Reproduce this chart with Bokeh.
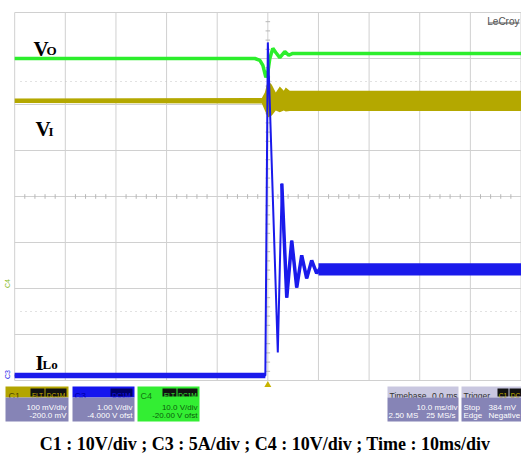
import numpy as np
from bokeh.plotting import figure
from bokeh.models import Range1d
from bokeh.core.properties import value
from bokeh.embed import file_html
from bokeh.resources import INLINE

# ---------------- data: time in ms (10 ms/div), amplitude in screen divisions ----------------
# C4 : output voltage Vo
vo_t = [-50, -2.56, -1.57, -0.98, -0.39, 0.0, 0.39, 0.98, 1.57, 2.36, 3.35, 4.13, 4.92, 50]
vo_y = [3.00, 3.00, 2.96, 2.85, 2.59, 2.70, 3.00, 3.22, 3.13, 3.02, 3.15, 3.07, 3.11, 3.11]

# C1 : input voltage VI (envelope of the noisy trace)
vi_t = [-50, -1.18, -0.59, 0.0, 0.79, 1.57, 2.36, 3.15, 3.54, 4.33, 50]
vi_hi = [2.13, 2.14, 2.26, 2.52, 2.43, 2.26, 2.39, 2.30, 2.37, 2.30, 2.30]
vi_lo = [2.03, 2.02, 1.87, 1.72, 1.76, 1.87, 1.83, 1.87, 1.85, 1.86, 1.86]

# C3 : inductor current ILo
il_t = [-50, -0.49, 0.0, 1.97, 2.76, 3.74, 4.72, 5.71, 6.69, 7.68, 8.66, 9.65, 10.4]
il_y = [-3.89, -3.89, 3.35, -3.39, 0.28, -2.20, -0.96, -1.98, -1.28, -1.78, -1.39, -1.67, -1.55]
il_band_t = [10.0, 50]
il_band_hi = [-1.45, -1.45]
il_band_lo = [-1.72, -1.72]

caption = "C1 : 10V/div ; C3 : 5A/div ; C4 : 10V/div ; Time : 10ms/div"

# ---------------- layout (figure fills the page) ----------------
W, H = 521, 455
X0, X1 = -52.8, 50.1
SX = W / (X1 - X0)
PXY = 46.0
Y1 = 196 / PXY
Y0 = Y1 - H / PXY


def dx(px):
    return X0 + px / SX


def dy(py):
    return Y1 - py / PXY


p = figure(width=W, height=H, x_range=Range1d(X0, X1), y_range=Range1d(Y0, Y1),
           x_axis_type=None, y_axis_type=None, toolbar_location=None,
           output_backend="svg", min_border=0, outline_line_color=None,
           background_fill_color="white", border_fill_color="white")

GRID = "#d0d0d0"
gx = np.arange(-50, 51, 10)
gy = np.arange(-4, 5, 1)
p.segment(x0=gx, y0=-4, x1=gx, y1=4, line_color=GRID, line_width=1)
p.segment(x0=-50, y0=gy, x1=50, y1=gy, line_color=GRID, line_width=1)
# dotted markers
p.segment(x0=[dx(20), dx(20)], y0=[2.5, -2.5], x1=[50, 50], y1=[2.5, -2.5],
          line_color="#c4c4c4", line_width=1, line_dash="1 4")
# center ticks
tx = [v for v in np.arange(-50, 50.01, 2) if abs(v % 10) > 1e-6]
p.segment(x0=tx, y0=-0.05, x1=tx, y1=0.05, line_color="#b8b8b8", line_width=1)
ty = [v for v in np.arange(-4, 4.001, 0.2) if abs(v - round(v)) > 1e-6]
p.segment(x0=-0.45, y0=ty, x1=0.45, y1=ty, line_color="#b8b8b8", line_width=1)

YEL = "#b4a800"
GRN = "#2cee2c"
BLU = "#1a1aeb"

# traces
p.varea(x=vi_t, y1=vi_lo, y2=vi_hi, fill_color=YEL)
p.line(vo_t, vo_y, line_color=GRN, line_width=3.5)
p.line(il_t, il_y, line_color=BLU, line_width=2)
p.line(il_t[:2], il_y[:2], line_color=BLU, line_width=5.5)
p.line(il_t[4:], il_y[4:], line_color=BLU, line_width=3.5)
p.varea(x=il_band_t, y1=il_band_lo, y2=il_band_hi, fill_color=BLU)


def txt(px, py, s, size, color, align="left", font="Liberation Sans",
        style="normal", baseline="alphabetic", angle=0):
    p.text(x=[dx(px)], y=[dy(py)], text=[s], text_font=value(font),
           text_font_size=f"{size}px", text_color=color, text_align=align,
           text_baseline=baseline, text_font_style=style, angle=angle)


def box(x0, y0, x1, y1, color):
    p.quad(left=dx(x0), right=dx(x1), top=dy(y0), bottom=dy(y1),
           fill_color=color, line_color=None)


SERIF = "Liberation Serif"
# trace labels
txt(33, 48, "V", 21, "black", font=SERIF, style="bold")
txt(46, 50, "O", 13, "black", font=SERIF, style="bold")
txt(35, 128, "V", 21, "black", font=SERIF, style="bold")
txt(48, 131, "I", 13, "black", font=SERIF, style="bold")
txt(35, 362, "I", 21, "black", font=SERIF, style="bold")
txt(42, 364, "Lo", 13, "black", font=SERIF, style="bold")

# LeCroy
txt(519, 21, "LeCroy", 10, "#555555", align="right")
p.segment(x0=dx(488), y0=dy(22.5), x1=dx(519), y1=dy(22.5), line_color="#555555", line_width=1)

# channel markers at left
txt(7, 283, "C4", 7, "#88bb22", align="center", baseline="middle", angle=np.pi / 2)
txt(7, 374, "C3", 7, BLU, align="center", baseline="middle", angle=np.pi / 2)

# trigger marker
p.scatter(x=[0], y=[dy(384.5)], marker="triangle", size=7, fill_color="#c8b400", line_color=None)

# ---------------- info boxes ----------------
BODY = "#8684b6"
HEAD = "#c9c7e0"
# C1
box(5, 386, 68, 397, "#b3a500")
txt(8, 395, "C1", 9, "#4d4700")
box(30, 388, 44, 396, "#111111"); txt(37, 394.5, "FLT", 6.5, "#c8b400", align="center")
box(45, 388, 66, 396, "#111111"); txt(55.5, 394.5, "DC1M", 6.5, "#c8b400", align="center")
box(5, 397, 68, 421, BODY)
txt(66, 406.5, "100 mV/div", 8, "white", align="right")
txt(66, 414.5, "-200.0 mV", 8, "white", align="right")
# C3
box(72, 386, 134, 397, "#1515ee")
txt(74, 395, "C3", 9, "#0000aa")
box(110, 388, 132, 396, "#000066"); txt(121, 394.5, "DC1M", 6.5, "#1515ee", align="center")
box(72, 397, 134, 421, BODY)
txt(132, 406.5, "1.00 V/div", 8, "white", align="right")
txt(132, 414.5, "-4.000 V ofst", 8, "white", align="right")
# C4
box(137, 386, 199, 421, "#33ee33")
txt(140, 395, "C4", 9, "#117711")
box(162, 388, 176, 396, "#111111"); txt(169, 394.5, "FLT", 6.5, "#33ee33", align="center")
box(177, 388, 197, 396, "#111111"); txt(187, 394.5, "DC1M", 6.5, "#33ee33", align="center")
txt(197, 406.5, "10.0 V/div", 8, "#0b5d0b", align="right")
txt(197, 414.5, "-20.00 V ofst", 8, "#0b5d0b", align="right")
# Timebase
box(387, 386, 458, 397, HEAD)
txt(389, 395, "Timebase", 8.5, "#333333")
txt(457, 395, "0.0 ms", 8.5, "#333333", align="right")
box(387, 397, 458, 421, BODY)
txt(457, 406.5, "10.0 ms/div", 8, "white", align="right")
txt(388, 414.5, "2.50 MS", 8, "white")
txt(455, 414.5, "25 MS/s", 8, "white", align="right")
# Trigger
box(461, 386, 521, 397, HEAD)
txt(463, 395, "Trigger", 8.5, "#333333")
box(497, 388, 508, 396, "#111111"); txt(502.5, 394.5, "C1", 6.5, "#c8b400", align="center")
box(509, 388, 521, 396, "#111111"); txt(515, 394.5, "DC", 6.5, "#c8b400", align="center")
box(461, 397, 521, 421, BODY)
txt(463, 406.5, "Stop", 8, "white")
txt(488, 406.5, "384 mV", 8, "white")
txt(463, 414.5, "Edge", 8, "white")
txt(488, 414.5, "Negative", 8, "white")

# caption
txt(264.5, 443.5, caption, 18, "black", align="center", font=SERIF, style="bold")

open("out.html", "w").write(file_html(p, INLINE))
